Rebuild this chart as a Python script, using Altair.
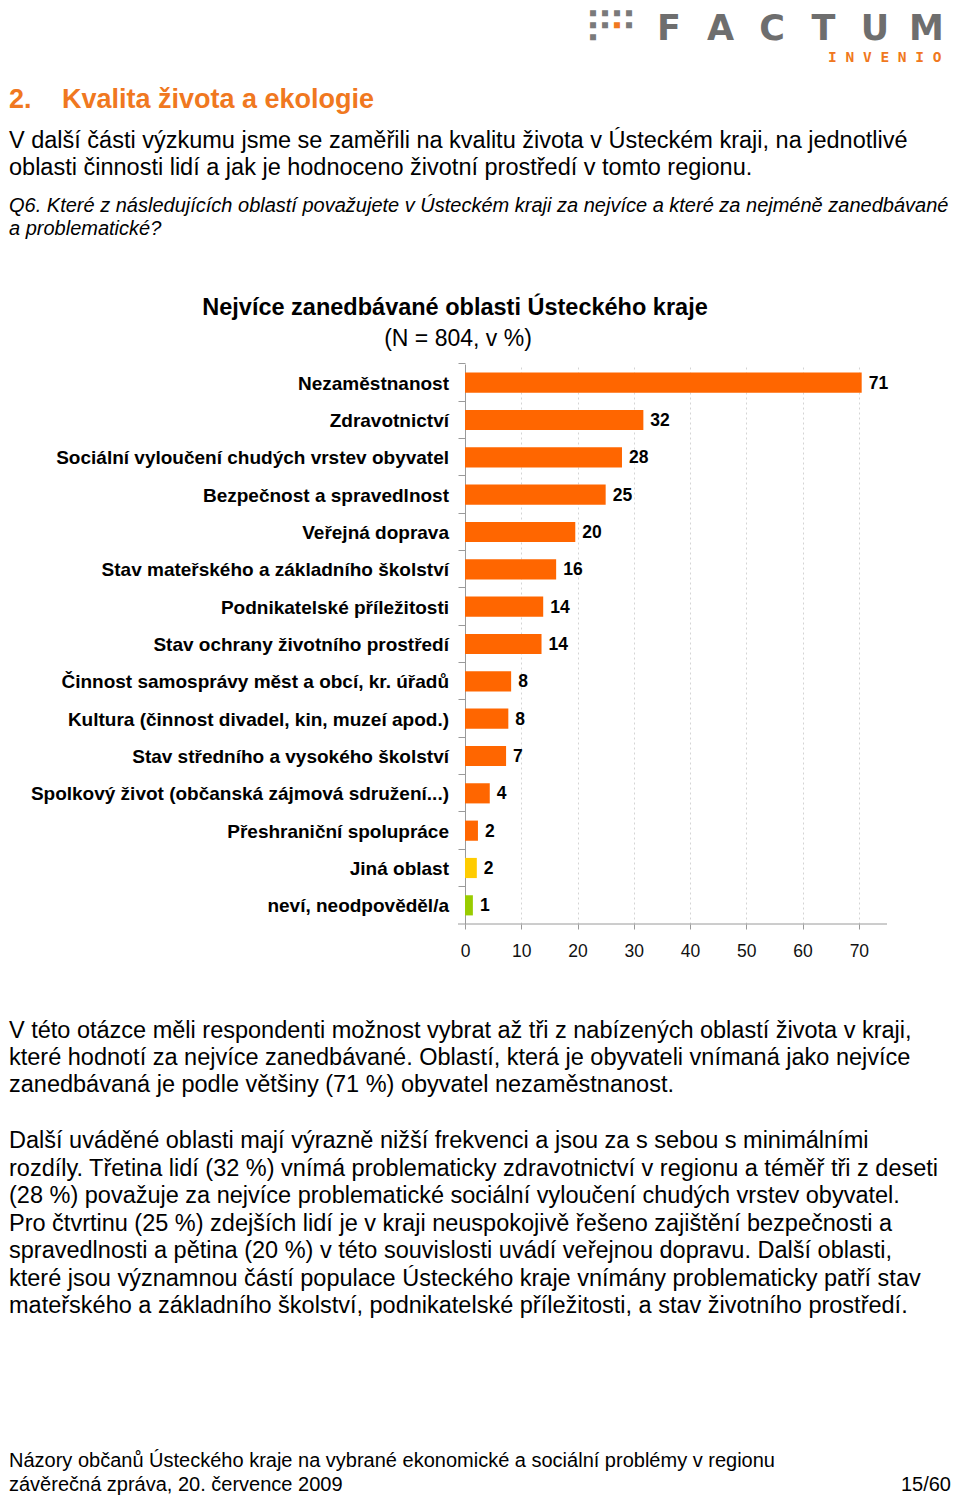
import altair as alt
import pandas as pd

# ---------------- data ----------------
categories = [
    "Nezaměstnanost",
    "Zdravotnictví",
    "Sociální vyloučení chudých vrstev obyvatel",
    "Bezpečnost a spravedlnost",
    "Veřejná doprava",
    "Stav mateřského a základního školství",
    "Podnikatelské příležitosti",
    "Stav ochrany životního prostředí",
    "Činnost samosprávy měst a obcí, kr. úřadů",
    "Kultura (činnost divadel, kin, muzeí apod.)",
    "Stav středního a vysokého školství",
    "Spolkový život (občanská zájmová sdružení...)",
    "Přeshraniční spolupráce",
    "Jiná oblast",
    "neví, neodpověděl/a",
]
values = [70.5, 31.7, 27.9, 25.0, 19.6, 16.2, 13.9, 13.6, 8.2, 7.7, 7.3, 4.4, 2.3, 2.1, 1.4]
labels = ["71", "32", "28", "25", "20", "16", "14", "14", "8", "8", "7", "4", "2", "2", "1"]
groups = ["oblast"] * 13 + ["jiná", "neví"]
x_ticks = [0, 10, 20, 30, 40, 50, 60, 70]

title_lines = ["Nejvíce zanedbávané oblasti Ústeckého kraje"]
subtitle_lines = ["(N = 804, v %)"]
heading_num = ["2."]
heading_text = ["Kvalita života a ekologie"]
intro_lines = [
    "V další části výzkumu jsme se zaměřili na kvalitu života v Ústeckém kraji, na jednotlivé",
    "oblasti činnosti lidí a jak je hodnoceno životní prostředí v tomto regionu.",
]
question_lines = [
    "Q6. Které z následujících oblastí považujete v Ústeckém kraji za nejvíce a které za nejméně zanedbávané",
    "a problematické?",
]
para1_lines = [
    "V této otázce měli respondenti možnost vybrat až tři z nabízených oblastí života v kraji,",
    "které hodnotí za nejvíce zanedbávané. Oblastí, která je obyvateli vnímaná jako nejvíce",
    "zanedbávaná je podle většiny (71 %) obyvatel nezaměstnanost.",
]
para2_lines = [
    "Další uváděné oblasti mají výrazně nižší frekvenci a jsou za s sebou s minimálními",
    "rozdíly. Třetina lidí (32 %) vnímá problematicky zdravotnictví v regionu a téměř tři z deseti",
    "(28 %) považuje za nejvíce problematické sociální vyloučení chudých vrstev obyvatel.",
    "Pro čtvrtinu (25 %) zdejších lidí je v kraji neuspokojivě řešeno zajištění bezpečnosti a",
    "spravedlnosti a pětina (20 %) v této souvislosti uvádí veřejnou dopravu. Další oblasti,",
    "které jsou významnou částí populace Ústeckého kraje vnímány problematicky patří stav",
    "mateřského  a základního školství, podnikatelské příležitosti, a stav životního prostředí.",
]
footer_lines = [
    "Názory občanů Ústeckého kraje na vybrané ekonomické a sociální problémy v regionu",
    "závěrečná zpráva, 20. července 2009",
]
page_number = ["15/60"]
logo_letters = ["F", "A", "C", "T", "U", "M"]
logo_sub = ["I N V E N I O"]

df = pd.DataFrame({"cat": categories, "value": values, "label": labels, "group": groups})

# ---------------- styling ----------------
ORANGE = "#FF6600"
HEAD_ORANGE = "#F07820"
BODY_FONT = "Liberation Sans, Arial"
CHART_FONT = "Liberation Sans, Arial"
X0, Y0 = 465, 364   # page position of the plot origin
PLOT_W, PLOT_H = 422, 560
LEFT = 9


def page_text(lines, px, py, size, font=BODY_FONT, weight="normal", style="normal",
              color="#000000", align="left", lh=None, baseline="alphabetic"):
    return alt.Chart(alt.InlineData(values=[{"k": 0}])).mark_text(
        text=lines, align=align, baseline=baseline, font=font, fontSize=size,
        fontWeight=weight, fontStyle=style, color=color,
        lineHeight=lh if lh else size * 1.2,
    ).encode(x=alt.value(px - X0), y=alt.value(py - Y0))


y_enc = alt.Y(
    "cat:N", sort=categories,
    scale=alt.Scale(paddingInner=0.46, paddingOuter=0.23),
    axis=alt.Axis(labels=False, title=None, domainColor="#9a9a9a", tickColor="#9a9a9a",
                  tickSize=7, bandPosition=-0.426, grid=False),
)
x_enc = alt.X(
    "value:Q", scale=alt.Scale(domain=[0, 75], nice=False),
    axis=alt.Axis(values=x_ticks, title=None, grid=True, gridDash=[2, 3], gridColor="#d4d4d4",
                  domain=False, tickColor="#9a9a9a", tickSize=5, labelFontSize=17.5,
                  labelFont=CHART_FONT, labelColor="#111111", labelPadding=13,
                  labelFlush=False),
)

base = alt.Chart(df)
bars = base.mark_bar().encode(
    x=x_enc, y=y_enc,
    color=alt.Color("group:N", scale=alt.Scale(domain=["oblast", "jiná", "neví"],
                                               range=[ORANGE, "#FFCC00", "#99CC00"]), legend=None),
)
value_text = base.mark_text(align="left", baseline="middle", dx=7, dy=1, font=CHART_FONT,
                            fontSize=17.5, fontWeight="bold", color="#000000").encode(
    x="value:Q", y=alt.Y("cat:N", sort=categories), text="label:N")
cat_text = base.mark_text(align="right", baseline="middle", dy=1, font=CHART_FONT,
                          fontSize=19, fontWeight="bold", color="#000000").encode(
    x=alt.value(-16), y=alt.Y("cat:N", sort=categories), text="cat:N")

x_line = alt.Chart(alt.InlineData(values=[{"k": 0}])).mark_rule(color="#9a9a9a", strokeWidth=1).encode(
    x=alt.value(-7), x2=alt.value(PLOT_W), y=alt.value(PLOT_H))

GREY_LOGO = "#6E6E6E"
texts = [
    page_text(heading_num, LEFT, 108, 27, weight="bold", color=HEAD_ORANGE),
    page_text(heading_text, 62, 108, 27, weight="bold", color=HEAD_ORANGE),
    page_text(intro_lines, LEFT, 148, 23.5, lh=27),
    page_text(question_lines, LEFT, 212, 20, style="italic", lh=23),
    page_text(title_lines, 455, 315, 23.5, font=CHART_FONT, weight="bold", align="center"),
    page_text(subtitle_lines, 458, 346, 23, font=CHART_FONT, align="center"),
    page_text(para1_lines, LEFT, 1038, 23.5, lh=27.2),
    page_text(para2_lines, LEFT, 1148, 23.5, lh=27.5),
    page_text(footer_lines, LEFT, 1467, 20, lh=24),
    page_text(page_number, 951, 1491, 20, align="right"),
    # logo
    page_text(logo_sub, 828, 62, 14.5, font="DejaVu Sans Mono", weight="bold", color=HEAD_ORANGE),
    page_text(["■ ■ ■ ■"], 590, 13, 10, font="DejaVu Sans Mono", color="#7a7a7a", baseline="middle"),
    page_text(["■ ■"], 590, 25, 10, font="DejaVu Sans Mono", color="#7a7a7a", baseline="middle"),
    page_text(["■"], 614, 25, 10, font="DejaVu Sans Mono", color=HEAD_ORANGE, baseline="middle"),
    page_text(["■"], 626, 25, 10, font="DejaVu Sans Mono", color="#7a7a7a", baseline="middle"),
    page_text(["■"], 590, 37, 10, font="DejaVu Sans Mono", color="#7a7a7a", baseline="middle"),
]
for i, letter in enumerate(logo_letters):
    texts.append(page_text([letter], 669 + i * 51.5, 40, 35, font="DejaVu Sans",
                           weight="bold", color=GREY_LOGO, align="center"))

TOTAL_W, TOTAL_H = 944, 1489
chart = alt.layer(bars, value_text, cat_text, x_line, *texts).properties(
    width=PLOT_W, height=PLOT_H,
    autosize=alt.AutoSizeParams(type="none"),
    padding={"left": X0 - 8, "top": Y0 - 8,
             "right": TOTAL_W - (X0 - 8) - PLOT_W,
             "bottom": TOTAL_H - (Y0 - 8) - PLOT_H},
    background="white",
).configure_view(stroke=None)

chart.save("out.html", embed_options={"renderer": "svg", "actions": False})
